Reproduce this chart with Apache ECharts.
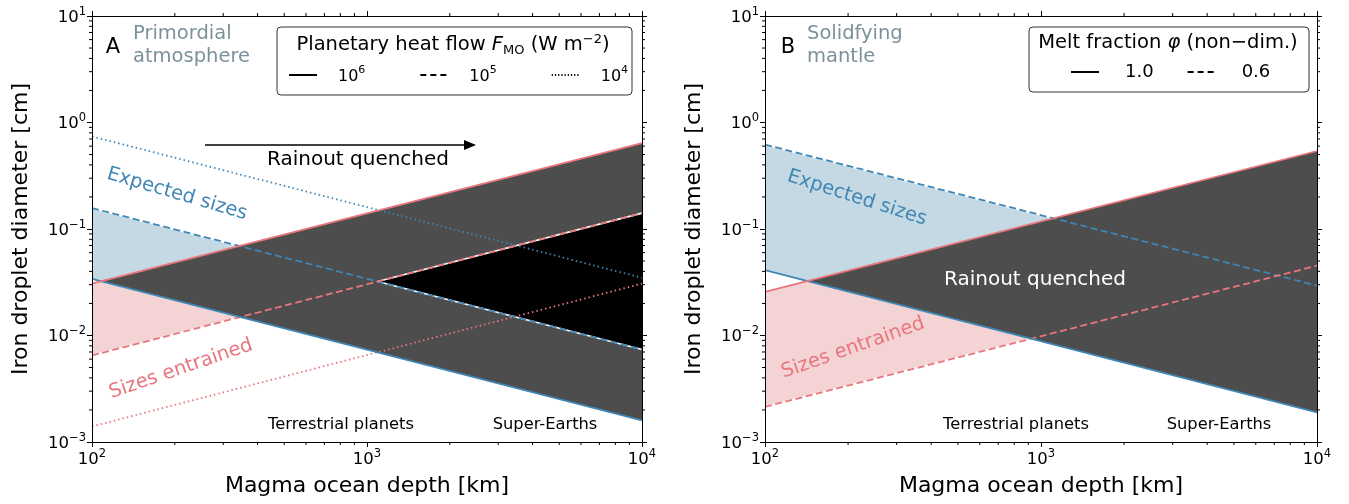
<!DOCTYPE html>
<html><head><meta charset="utf-8">
<script src="https://cdn.jsdelivr.net/npm/echarts@6/dist/echarts.min.js"></script>
<style>html,body{margin:0;padding:0;background:#fff}#c{width:1349px;height:504px}</style>
</head><body><div id="c"></div>
<script>
// ---------------- DATA ----------------
// Magma ocean depth (km) at the two ends of every line
const depthKm = [100, 10000];
// Panel A (primordial atmosphere): droplet diameter (cm) at depthKm, per heat flow
const aExpected1e6  = [0.034, 0.0016];
const aExpected1e5  = [0.157, 0.0074];
const aExpected1e4  = [0.74, 0.0348];
const aEntrained1e6 = [0.0307, 0.64];
const aEntrained1e5 = [0.0065, 0.141];
const aEntrained1e4 = [0.0014, 0.0307];
// Panel B (solidifying mantle): per melt fraction
const bExpected10  = [0.041, 0.0019];
const bExpected06  = [0.62, 0.0294];
const bEntrained10 = [0.0257, 0.54];
const bEntrained06 = [0.00214, 0.0453];
// axes
const xTicks = [100, 1000, 10000];
const xTickLabels = ['2', '3', '4'];
const yTicks = [0.001, 0.01, 0.1, 1, 10];
const yTickLabels = ['−3', '−2', '−1', '0', '1'];
const legendA = ['10^6', '10^5', '10^4'];
const legendB = ['1.0', '0.6'];

// ---------------- STYLE ----------------
const FONT = 'DejaVu Sans';
const BLUE = '#3f86b4', RED = '#e8767c';
const LBLUE = '#c5d9e4', PINK = '#f4d3d5', GRAY = '#4d4d4d';
const NOTE = '#7c9199';
const DASH = [7, 3.5], DOT = [1.5, 3];

const pts = v => [[depthKm[0], v[0]], [depthKm[1], v[1]]];
const L = Math.log10;
function cross(a, b) { // intersection of two straight lines in log-log space
  const x0 = L(depthKm[0]), x1 = L(depthKm[1]);
  const ma = (L(a[1]) - L(a[0])) / (x1 - x0), mb = (L(b[1]) - L(b[0])) / (x1 - x0);
  const t = x0 + (L(b[0]) - L(a[0])) / (ma - mb);
  return [Math.pow(10, t), Math.pow(10, L(a[0]) + ma * (t - x0))];
}

function lineSeries(ai, v, color, type, name) {
  return { type: 'line', name: name, xAxisIndex: ai, yAxisIndex: ai, data: pts(v), symbol: 'none', silent: true,
    z: 5, lineStyle: { color: color, width: 1.8, type: type }, itemStyle: { color: color } };
}
function polySeries(ai, poly, fill, whiteEdges, z) {
  return { type: 'custom', xAxisIndex: ai, yAxisIndex: ai, z: z, silent: true, clip: false,
    data: [[1000, 0.01]],
    renderItem: function (params, api) {
      const ch = [{ type: 'polygon', shape: { points: poly.map(p => api.coord(p)) }, style: { fill: fill } }];
      whiteEdges.forEach(e => ch.push({ type: 'polyline', shape: { points: e.map(p => api.coord(p)) },
        style: { stroke: '#fff', lineWidth: 1.6, fill: null } }));
      return { type: 'group', children: ch };
    } };
}
function minorTickSeries(ai) {
  const xm = [], ym = [];
  for (let e = 2; e < 4; e++) for (let k = 2; k < 10; k++) xm.push(k * Math.pow(10, e));
  for (let e = -3; e < 1; e++) for (let k = 2; k < 10; k++) ym.push(k * Math.pow(10, e));
  return { type: 'custom', xAxisIndex: ai, yAxisIndex: ai, z: 20, silent: true, clip: false,
    data: [[1000, 0.01]],
    renderItem: function (params, api) {
      const ch = [], T = 3, st = { stroke: '#000', lineWidth: 1 };
      xm.forEach(m => {
        const b = api.coord([m, 0.001]), t = api.coord([m, 10]);
        ch.push({ type: 'line', shape: { x1: b[0], y1: b[1], x2: b[0], y2: b[1] + T }, style: st });
        ch.push({ type: 'line', shape: { x1: t[0], y1: t[1], x2: t[0], y2: t[1] - T }, style: st });
      });
      ym.forEach(m => {
        const l = api.coord([100, m]), r = api.coord([10000, m]);
        ch.push({ type: 'line', shape: { x1: l[0], y1: l[1], x2: l[0] - T, y2: l[1] }, style: st });
        ch.push({ type: 'line', shape: { x1: r[0], y1: r[1], x2: r[0] + T, y2: r[1] }, style: st });
      });
      return { type: 'group', children: ch };
    } };
}

const tickRich = {
  b: { fontFamily: FONT, fontSize: 16.5, color: '#000', lineHeight: 20, verticalAlign: 'bottom' },
  s: { fontFamily: FONT, fontSize: 11.5, color: '#000', lineHeight: 20, verticalAlign: 'top' }
};
function xAx(grid, pos) {
  const main = pos === 'bottom';
  return { type: 'log', logBase: 10, gridIndex: grid, position: pos, min: 100, max: 10000, z: 10,
    name: main ? 'Magma ocean depth [km]' : '', nameLocation: 'middle', nameGap: 33,
    nameTextStyle: { fontFamily: FONT, fontSize: 22, color: '#000' },
    axisLine: { show: true, lineStyle: { color: '#000', width: 1 } },
    axisTick: { show: true, inside: false, length: 5, lineStyle: { color: '#000', width: 1 } },
    splitLine: { show: false }, minorTick: { show: false },
    axisLabel: { show: main, margin: 6, formatter: v => { const i = xTicks.findIndex(t => Math.abs(L(t) - L(v)) < 1e-6);
      return '{b|10}{s|' + xTickLabels[i] + '}'; }, rich: tickRich } };
}
function yAx(grid, pos) {
  const main = pos === 'left';
  return { type: 'log', logBase: 10, gridIndex: grid, position: pos, min: 0.001, max: 10, z: 10,
    name: main ? 'Iron droplet diameter [cm]' : '', nameLocation: 'middle', nameGap: 60, nameRotate: 90,
    nameTextStyle: { fontFamily: FONT, fontSize: 22, color: '#000' },
    axisLine: { show: true, lineStyle: { color: '#000', width: 1 } },
    axisTick: { show: true, inside: false, length: 5, lineStyle: { color: '#000', width: 1 } },
    splitLine: { show: false }, minorTick: { show: false },
    axisLabel: { show: main, margin: 6, formatter: v => { const i = yTicks.findIndex(t => Math.abs(L(t) - L(v)) < 1e-6);
      return '{b|10}{s|' + yTickLabels[i] + '}'; }, rich: tickRich } };
}

// ---------- polygons ----------
const pA_gray = cross(aExpected1e6, aEntrained1e6);
const pA_black = cross(aExpected1e5, aEntrained1e5);
const pB_gray = cross(bExpected10, bEntrained10);

const dummy = (ai, name, width, type) => ({ type: 'line', name: name, xAxisIndex: ai, yAxisIndex: ai, data: [], symbol: 'none',
  lineStyle: { color: '#000', width: width, type: type }, itemStyle: { color: '#000' } });

const series = [
  // Panel A fills
  polySeries(0, pts(aExpected1e6).concat(pts(aExpected1e5).reverse()), LBLUE, [pts(aExpected1e5)], 1),
  polySeries(0, pts(aEntrained1e5).concat(pts(aEntrained1e6).reverse()), PINK, [pts(aEntrained1e5)], 2),
  polySeries(0, [pA_gray, [depthKm[1], aEntrained1e6[1]], [depthKm[1], aExpected1e6[1]]], GRAY, [], 3),
  polySeries(0, [pA_black, [depthKm[1], aEntrained1e5[1]], [depthKm[1], aExpected1e5[1]]], '#000',
    [[pA_black, [depthKm[1], aEntrained1e5[1]]], [pA_black, [depthKm[1], aExpected1e5[1]]]], 4),
  // Panel A lines
  lineSeries(0, aExpected1e4, BLUE, DOT), lineSeries(0, aEntrained1e4, RED, DOT),
  lineSeries(0, aExpected1e5, BLUE, DASH), lineSeries(0, aEntrained1e5, RED, DASH),
  lineSeries(0, aExpected1e6, BLUE, 'solid'), lineSeries(0, aEntrained1e6, RED, 'solid'),
  dummy(0, legendA[0], 1.8, 'solid'), dummy(0, legendA[1], 1.8, [6, 4]), dummy(0, legendA[2], 1.2, [1.2, 2]),
  minorTickSeries(0),
  // Panel B fills
  polySeries(2, pts(bExpected10).concat(pts(bExpected06).reverse()), LBLUE, [pts(bExpected06)], 1),
  polySeries(2, pts(bEntrained06).concat(pts(bEntrained10).reverse()), PINK, [pts(bEntrained06)], 2),
  polySeries(2, [pB_gray, [depthKm[1], bEntrained10[1]], [depthKm[1], bExpected10[1]]], GRAY, [], 3),
  lineSeries(2, bExpected06, BLUE, DASH), lineSeries(2, bEntrained06, RED, DASH),
  lineSeries(2, bExpected10, BLUE, 'solid'), lineSeries(2, bEntrained10, RED, 'solid'),
  dummy(2, legendB[0], 1.8, 'solid'), dummy(2, legendB[1], 1.8, [6, 4]),
  minorTickSeries(2)
];

const legRich = {
  p: { width: 16 },
  q: { width: 21 },
  b: { fontFamily: FONT, fontSize: 16, color: '#000', lineHeight: 20, verticalAlign: 'bottom' },
  s: { fontFamily: FONT, fontSize: 11, color: '#000', lineHeight: 20, verticalAlign: 'top' },
  t: { fontFamily: FONT, fontSize: 18, color: '#000' }
};
const txt = (x, y, text, size, color, extra) => Object.assign({ type: 'text', x: x, y: y, z: 30, silent: true,
  style: Object.assign({ text: text, fontFamily: FONT, fontSize: size, fill: color, align: 'center', verticalAlign: 'middle' }, extra || {}) });

const graphic = [
  // Panel A notes
  txt(113, 48, 'A', 21, '#000'),
  txt(133, 45, 'Primordial\natmosphere', 19.5, NOTE, { align: 'left', lineHeight: 23 }),
  txt(358, 160, 'Rainout quenched', 20, '#000'),
  { type: 'line', z: 30, silent: true, shape: { x1: 205, y1: 145, x2: 466, y2: 145 }, style: { stroke: '#000', lineWidth: 1.5 } },
  { type: 'polygon', z: 30, silent: true, shape: { points: [[476, 145], [464, 140], [464, 150]] }, style: { fill: '#000' } },
  Object.assign(txt(177, 194, 'Expected sizes', 19.5, BLUE), { rotation: -0.285 }),
  Object.assign(txt(181, 369, 'Sizes entrained', 19.5, RED), { rotation: 0.33 }),
  txt(341, 425, 'Terrestrial planets', 16.3, '#000'),
  txt(545, 425, 'Super-Earths', 16.3, '#000'),
  { type: 'rect', z: 25, silent: true, shape: { x: 277, y: 27, width: 355, height: 68, r: 4 }, style: { fill: '#fff', stroke: '#333', lineWidth: 1 } },
  txt(453, 45, '{t|Planetary heat flow }{i|F}{sub|MO}{t| (W m}{sup|−2}{t|)}', 19.5, '#000', { rich: {
    t: { fontFamily: FONT, fontSize: 19.5, lineHeight: 24, verticalAlign: 'middle' },
    i: { fontFamily: FONT, fontSize: 19.5, fontStyle: 'italic', lineHeight: 24, verticalAlign: 'middle' },
    sub: { fontFamily: FONT, fontSize: 13, lineHeight: 24, verticalAlign: 'bottom' },
    sup: { fontFamily: FONT, fontSize: 13, lineHeight: 24, verticalAlign: 'top' } } }),
  // Panel B notes
  txt(788, 48, 'B', 21, '#000'),
  txt(807, 45, 'Solidfying\nmantle', 19.5, NOTE, { align: 'left', lineHeight: 23 }),
  txt(1035, 280, 'Rainout quenched', 20, '#fff'),
  Object.assign(txt(857, 198, 'Expected sizes', 19.5, BLUE), { rotation: -0.31 }),
  Object.assign(txt(853, 348, 'Sizes entrained', 19.5, RED), { rotation: 0.34 }),
  txt(1016, 425, 'Terrestrial planets', 16.3, '#000'),
  txt(1219, 425, 'Super-Earths', 16.3, '#000'),
  { type: 'rect', z: 25, silent: true, shape: { x: 1029, y: 27, width: 280, height: 65, r: 4 }, style: { fill: '#fff', stroke: '#333', lineWidth: 1 } },
  txt(1168, 43, '{t|Melt fraction }{i|φ}{t| (non−dim.)}', 19.5, '#000', { rich: {
    t: { fontFamily: FONT, fontSize: 19.5 }, i: { fontFamily: FONT, fontSize: 19.5, fontStyle: 'italic' } } })
];

const legendCommon = { orient: 'horizontal', itemWidth: 28, itemHeight: 12, padding: 0, z: 40, selectedMode: false,
  itemStyle: { color: 'rgba(0,0,0,0)', borderWidth: 0, borderColor: 'rgba(0,0,0,0)' } };

const chart = echarts.init(document.getElementById('c'), null, { renderer: 'canvas' });
chart.setOption({
  animation: false,
  backgroundColor: '#fff',
  grid: [
    { left: 92, top: 16, width: 550, height: 426 },
    { left: 765, top: 16, width: 552, height: 426 }
  ],
  xAxis: [xAx(0, 'bottom'), xAx(0, 'top'), xAx(1, 'bottom'), xAx(1, 'top')],
  yAxis: [yAx(0, 'left'), yAx(0, 'right'), yAx(1, 'left'), yAx(1, 'right')],
  legend: [
    Object.assign({ data: legendA, left: 288, top: 65, itemGap: 54,
      formatter: n => '{p|}{b|10}{s|' + n.split('^')[1] + '}', textStyle: { rich: legRich } }, legendCommon),
    Object.assign({ data: legendB, left: 1070, top: 63, itemGap: 33,
      formatter: n => '{q|}{t|' + n + '}', textStyle: { rich: legRich } }, legendCommon)
  ],
  series: series,
  graphic: graphic
});
</script></body></html>
